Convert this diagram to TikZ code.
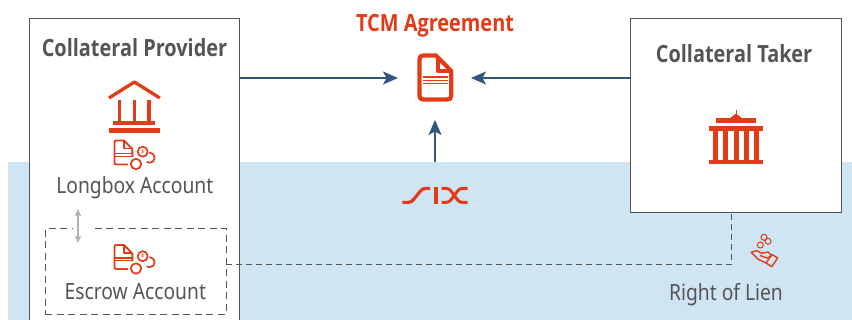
\documentclass[tikz,border=0pt]{standalone}
\usepackage{fontspec}
\setmainfont{Noto Sans}[FakeStretch=0.86]
\newfontfamily\headfam{Open Sans}[FakeStretch=0.84]
\newcommand{\headfont}{\headfam\bfseries}
\usetikzlibrary{arrows.meta}
\definecolor{tcmred}{HTML}{E23B18}
\definecolor{tcmgrey}{HTML}{555555}
\definecolor{tcmblue}{HTML}{315680}
\definecolor{tcmsky}{HTML}{CFE5F3}
\tikzset{
  x=1pt,y=-1pt,
  panel/.style={draw=tcmgrey,line width=1pt,fill=white},
  head/.style={font=\headfont\fontsize{23.7}{26}\selectfont,text=tcmgrey,inner sep=0pt,anchor=base},
  label/.style={font=\fontsize{22.4}{26}\selectfont,text=tcmgrey,inner sep=0pt,anchor=base},
  flow/.style={draw=tcmblue,line width=1.3pt,-{Stealth[length=15pt,width=13pt,inset=3.5pt]}},
  dashlink/.style={draw=tcmgrey,line width=.8pt,dash pattern=on 6pt off 4pt},
  icon/.style={draw=tcmred,line width=2pt,line join=round},
  pics/acct/.style={code={
    \draw[icon,line width=1.9pt] (14,24.5) -- (2.5,24.5) .. controls (1,24.5) and (.5,24) .. (.5,22.5) -- (.5,2.5) .. controls (.5,1) and (1,.5) .. (2.5,.5) -- (10,.5) -- (18.3,9) -- (18.3,17);
    \draw[icon,line width=1.5pt] (10,.5) -- (10,8.5) -- (18.3,8.5);
    \draw[tcmred,line width=1.5pt] (.5,13.5) -- (17.5,13.5);
    \draw[tcmred,line width=1.1pt] (.5,16.2) -- (17.5,16.2);
    \draw[icon,line width=1.7pt] (28.7,11.7) circle (5);
    \node[inner sep=0pt,text=tcmred,font=\headfont\fontsize{5}{5}\selectfont] at (28.7,11.7) {\$};
    \draw[icon,line width=1.7pt] (22,24) circle (5.2);
    \draw[icon,line width=1.7pt,line cap=round] (35.7,12.7) arc (-90:120:5);
  }}
}
\begin{document}
\begin{tikzpicture}
\useasboundingbox (0,0) rectangle (852,320);
\fill[white] (0,0) rectangle (852,320);
\fill[tcmsky] (8,162) rectangle (852,320);

% Panels
\fill[white] (29,18.5) rectangle (239,320);
\draw[panel,fill=none] (29,320) -- (29,18.5) -- (239,18.5) -- (239,320);
\node[panel,minimum width=211pt,minimum height=193.5pt,inner sep=0pt,anchor=north west] (taker) at (630.3,18.5) {};
\coordinate (provider) at (239,78);
\coordinate (takerport) at (630.3,78);

% Texts
\node[head] (phead) at (134.5,56.7) {Collateral Provider};
\node[head] (thead) at (734,62.7) {Collateral Taker};
\node[head,text=tcmred] (tcm) at (435,31.7) {TCM Agreement};
\node[label] (longbox) at (134.8,193.5) {Longbox Account};
\node[label] (escrowt) at (135.3,299.5) {Escrow Account};
\node[label] (lien) at (726,301) {Right of Lien};

% Bank icon
\draw[icon,line width=3.3pt,line join=round] (109,98) -- (134.4,82) -- (159.8,98);
\draw[tcmred,line width=3.6pt] (119.5,100) -- (119.5,122) (134.3,100) -- (134.3,122) (149,100) -- (149,122);
\fill[tcmred] (113.3,120.7) rectangle (155,125);
\fill[tcmred] (109,128) rectangle (160,132.7);

% Account icons
\pic at (114,140) {acct};
\node[draw=tcmgrey,line width=.8pt,dash pattern=on 7pt off 4.5pt,minimum width=180.6pt,minimum height=86pt,inner sep=0pt,anchor=north west] (escrow) at (45,228) {};
\fill[white] (73,226) rectangle (90,230);
\pic at (114,244.5) {acct};

% Grey double arrow
\coordinate (a1) at (78,209);
\coordinate (a2) at (78,243);
\draw[draw=black!30,line width=1.2pt,{Stealth[length=7pt,width=6pt,inset=1pt]}-{Stealth[length=7pt,width=6pt,inset=1pt]}] (a1) -- (a2);

% Agreement document
\node[minimum width=36pt,minimum height=48pt,inner sep=0pt] (doc) at (435,77) {};
\draw[icon,line width=4.2pt] (419.5,59.5) .. controls (419.5,56.5) and (420.5,55.5) .. (423.5,55.5) -- (436,55.5) -- (451.2,71) -- (451.2,95.5) .. controls (451.2,98.5) and (450.2,99.5) .. (447.2,99.5) -- (423.5,99.5) .. controls (420.5,99.5) and (419.5,98.5) .. (419.5,95.5) -- cycle;
\draw[icon,line width=3.8pt] (437.8,56) -- (437.8,71) -- (451,71);
\draw[tcmred,line width=2pt] (423,76.7) -- (448.3,76.7);
\draw[tcmred,line width=1.2pt] (423,80.2) -- (448.3,80.2) (423,83.4) -- (448.3,83.4);

% SIX logo
\node[minimum width=66pt,minimum height=20pt,inner sep=0pt] (six) at (435,195) {};
\draw[tcmred,line width=3.2pt] (402.3,202.4) -- (408,202.4) .. controls (411,202.4) and (412,201.5) .. (414,199) -- (420,191.5) .. controls (422,189) and (423,188.4) .. (426,188.4) -- (430,188.4);
\fill[tcmred] (433.6,186.8) rectangle (438,204);
\draw[tcmred,line width=3pt] (441.5,188.4) -- (446,188.4) .. controls (450,188.4) and (451.5,192) .. (454.3,195.4) .. controls (457,192) and (458.5,188.4) .. (462.5,188.4) -- (467.7,188.4)
  (441.5,202.4) -- (446,202.4) .. controls (450,202.4) and (451.5,199) .. (454.3,195.4) .. controls (457,199) and (458.5,202.4) .. (462.5,202.4) -- (467.7,202.4);

% Taker icon
\fill[tcmred] (715.7,118.3) rectangle (756.3,123.3);
\fill[tcmred] (729,119) -- (736,113.5) -- (743,119) -- cycle;
\draw[tcmred,line width=.7pt] (736,110.5) -- (736,115);
\fill[tcmred] (709,126) rectangle (763,131);
\foreach \cx in {715.8,725.8,736.2,746.5,756.5}
  \fill[tcmred] (\cx-2.5,131) rectangle (\cx+2.5,161);
\fill[tcmred] (709,160) rectangle (763,164.3);

% Hand icon
\draw[tcmred,line width=1pt] (764,237.3) circle (3) (768,241.3) circle (3) (760.3,245) circle (3);
\draw[tcmred,line width=1.4pt,line join=round] (751,252.3) -- (756.7,250.7) -- (761.7,253.3) -- (768.3,252) -- (771.7,256) (760,255.5) -- (767,258) -- (771.7,256) (751,252.3) -- (758.3,259.3) -- (766.7,263.3);
\draw[tcmred,line width=1.4pt,line join=round] (772,254.5) -- (777.7,258) -- (771.7,266.7) -- (766,263) -- cycle;

% Connectors
\draw[flow] (provider) -- (398,78);
\draw[flow] (takerport) -- (471,78);
\draw[flow] (435,162) -- (435,120);
\draw[dashlink] (escrow.east |- 0,264.5) -- (731.5,264.5) -- (taker.south -| 731.5,0);
\end{tikzpicture}
\end{document}
